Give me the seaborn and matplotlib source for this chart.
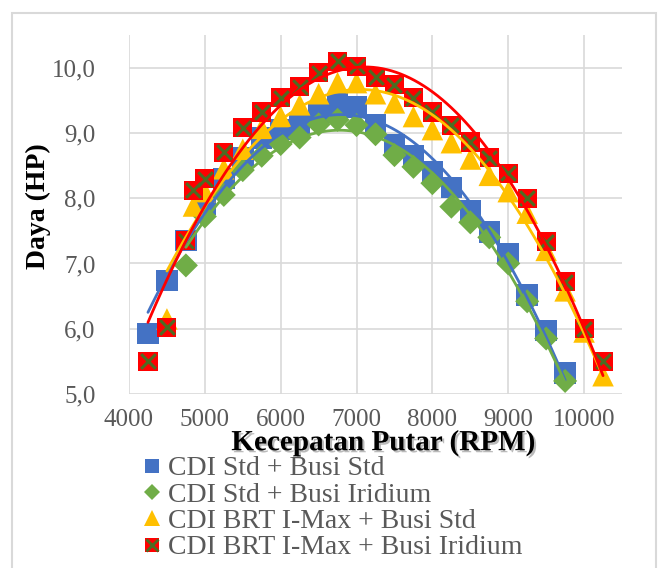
import seaborn as sns
import matplotlib.pyplot as plt
import matplotlib.patheffects as pe
from matplotlib.lines import Line2D
from matplotlib.patches import Rectangle
from matplotlib.legend_handler import HandlerTuple
import pandas as pd
import numpy as np

# data (RPM, HP)
rpm_std_std = [4250, 4500, 4750, 5000, 5250, 5500, 5750, 6000, 6250, 6500, 6750, 7000,
               7250, 7500, 7750, 8000, 8250, 8500, 8750, 9000, 9250, 9500, 9750]
hp_std_std = [5.93, 6.74, 7.35, 7.90, 8.30, 8.62, 8.92, 9.05, 9.15, 9.30, 9.45, 9.40,
              9.12, 8.82, 8.65, 8.40, 8.16, 7.80, 7.48, 7.15, 6.52, 5.97, 5.32]

rpm_std_ir = [4750, 5000, 5250, 5500, 5750, 6000, 6250, 6500, 6750, 7000, 7250,
              7500, 7750, 8000, 8250, 8500, 8750, 9000, 9250, 9500, 9750]
hp_std_ir = [6.97, 7.72, 8.05, 8.43, 8.65, 8.83, 8.93, 9.13, 9.20, 9.12, 8.98,
             8.66, 8.48, 8.23, 7.87, 7.63, 7.40, 7.00, 6.42, 5.85, 5.20]

rpm_brt_std = [4500, 4850, 5000, 5250, 5500, 5750, 6000, 6250, 6500, 6750, 7000, 7250,
               7500, 7750, 8000, 8250, 8500, 8750, 9000, 9250, 9500, 9750, 10000, 10250]
hp_brt_std = [6.15, 7.88, 8.10, 8.45, 8.75, 9.07, 9.25, 9.43, 9.60, 9.77, 9.77, 9.60,
              9.46, 9.25, 9.05, 8.85, 8.60, 8.35, 8.10, 7.77, 7.20, 6.58, 5.95, 5.28]

rpm_brt_ir = [4250, 4500, 4750, 4850, 5000, 5250, 5500, 5750, 6000, 6250, 6500, 6750, 7000,
              7250, 7500, 7750, 8000, 8250, 8500, 8750, 9000, 9250, 9500, 9750, 10000, 10250]
hp_brt_ir = [5.50, 6.02, 7.35, 8.12, 8.30, 8.70, 9.08, 9.32, 9.54, 9.71, 9.92, 10.10, 10.02,
             9.85, 9.74, 9.54, 9.32, 9.12, 8.86, 8.62, 8.38, 8.00, 7.33, 6.72, 6.00, 5.50]

series_names = ['CDI Std + Busi Std', 'CDI Std + Busi Iridium',
                'CDI BRT I-Max + Busi Std', 'CDI BRT I-Max + Busi Iridium']
x_ticks = [4000, 5000, 6000, 7000, 8000, 9000, 10000]
y_ticks = [5, 6, 7, 8, 9, 10]
y_tick_labels = ['5,0', '6,0', '7,0', '8,0', '9,0', '10,0']

series = [
    (rpm_std_std, hp_std_std, '#4472C4', 's', 240),
    (rpm_std_ir, hp_std_ir, '#70AD47', 'D', 150),
    (rpm_brt_std, hp_brt_std, '#FFC000', '^', 240),
    (rpm_brt_ir, hp_brt_ir, '#FF0000', 's', 190),
]
x_color = '#4E6B22'

sns.set_style("whitegrid", {"grid.color": "#d9d9d9"})
plt.rcParams['font.family'] = ['Liberation Serif', 'DejaVu Serif']

fig = plt.figure(figsize=(6.68, 5.68), dpi=100)
fig.patches.append(Rectangle((12 / 668, -0.1), (656 - 12) / 668, 1.1 - 13 / 568,
                             transform=fig.transFigure, fill=False,
                             edgecolor='#d9d9d9', linewidth=1.5))
ax = fig.add_axes([129 / 668, 1 - 394 / 568, (622 - 129) / 668, (394 - 35) / 568])

for (xs, ys, color, marker, size), name in zip(series, series_names):
    df = pd.DataFrame({'rpm': xs, 'hp': ys})
    sns.scatterplot(data=df, x='rpm', y='hp', marker=marker, s=size, color=color,
                    edgecolor='none', linewidth=0, ax=ax, zorder=3)
    if name == series_names[3]:
        sns.scatterplot(data=df, x='rpm', y='hp', marker='x', s=110, color=x_color,
                        linewidth=2.2, ax=ax, zorder=4)

# polynomial trendlines
for xs, ys, color, marker, size in series:
    df = pd.DataFrame({'rpm': xs, 'hp': ys})
    sns.regplot(data=df, x='rpm', y='hp', order=2, scatter=False, ci=None,
                truncate=True, color=color, line_kws={'linewidth': 2, 'zorder': 5}, ax=ax)

ax.set_xlim(4000, 10500)
ax.set_ylim(5, 10.5)
ax.set_xticks(x_ticks)
ax.set_xticklabels([str(t) for t in x_ticks], fontsize=18, color='#595959')
ax.set_yticks(y_ticks)
ax.set_yticklabels(y_tick_labels, fontsize=18, color='#595959')
ax.tick_params(axis='x', length=0, pad=11)
ax.tick_params(axis='y', length=0, pad=24)
ax.grid(True, color='#d9d9d9', linewidth=1.2)
for s in ax.spines.values():
    s.set_visible(False)
ax.set_xlabel('')
ax.set_ylabel('')

fig.text(383 / 668, 1 - 443 / 568, 'Kecepatan Putar (RPM)', fontsize=21, fontweight='bold',
         ha='center', va='center', color='black',
         path_effects=[pe.withSimplePatchShadow(offset=(1.5, -1.5), shadow_rgbFace='#777777', alpha=0.5)])
fig.text(38 / 668, 1 - 206 / 568, 'Daya (HP)', fontsize=20, fontweight='bold',
         rotation=90, ha='center', va='center', color='black')

handles = [
    Line2D([], [], linestyle='none', marker='s', markersize=10.5, color='#4472C4', markeredgewidth=0),
    Line2D([], [], linestyle='none', marker='D', markersize=8, color='#70AD47', markeredgewidth=0),
    Line2D([], [], linestyle='none', marker='^', markersize=11, color='#FFC000', markeredgewidth=0),
    (Line2D([], [], linestyle='none', marker='s', markersize=10, color='#FF0000', markeredgewidth=0),
     Line2D([], [], linestyle='none', marker='x', markersize=8, color=x_color, markeredgewidth=2)),
]
leg = fig.legend(handles, series_names, loc='upper left', bbox_to_anchor=(142 / 668, 1 - 456 / 568),
                 frameon=False, fontsize=20, handlelength=0.7, handletextpad=0.22,
                 labelspacing=0.03, borderpad=0, borderaxespad=0,
                 handler_map={tuple: HandlerTuple(ndivide=1)})
for t in leg.get_texts():
    t.set_color('#595959')

fig.savefig('out.png', dpi=100)
